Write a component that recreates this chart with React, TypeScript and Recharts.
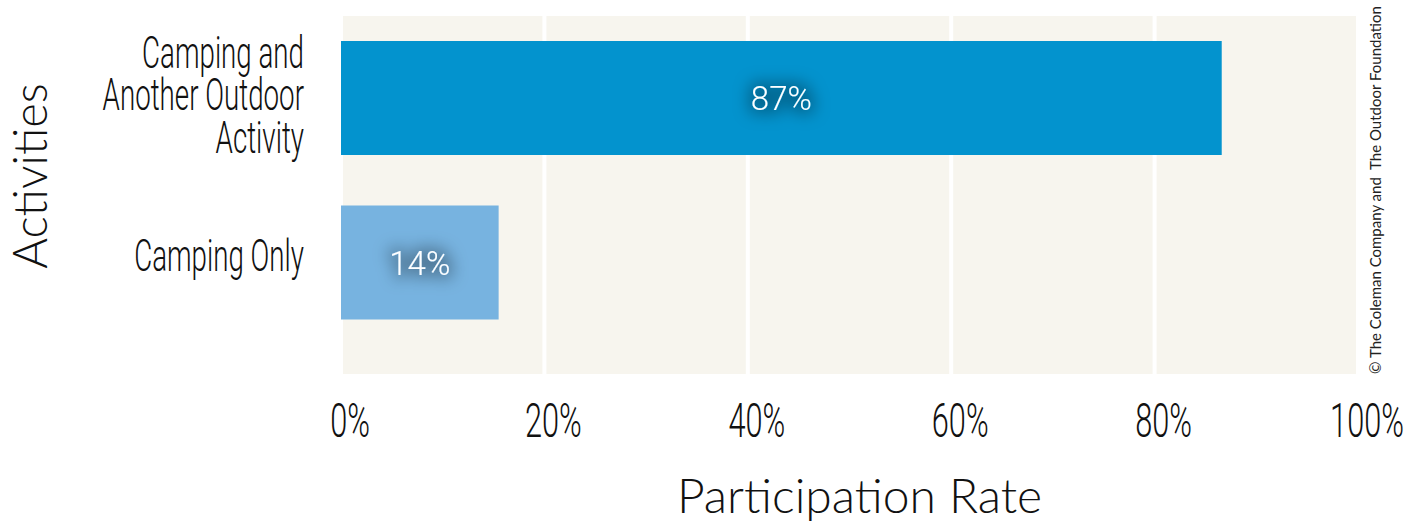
import React from 'react';
import {
  BarChart,
  Bar,
  Cell,
  XAxis,
  YAxis,
  CartesianGrid,
  LabelList,
  Label,
} from 'recharts';

const categories = ['Camping and\nAnother Outdoor\nActivity', 'Camping Only'];
const participation = [86.6, 15.5];
const valueLabels = ['87%', '14%'];
const barColors = ['#0393CE', '#77B3E0'];
const xTicks = [0, 20, 40, 60, 80, 100];

const data = categories.map((name, i) => ({
  name,
  rate: participation[i],
  label: valueLabels[i],
}));

// thin condensed look: Roboto light squeezed horizontally
const CONDENSED = "Roboto, 'Liberation Sans', sans-serif";
const ROUND = "Lato, 'Open Sans', sans-serif";
const LINE_GAP = 42.5;

const XTick = (props: any) => {
  const { x, y, payload } = props;
  return (
    <text
      transform={`translate(${x + 9},${y + 63}) scale(0.64,1)`}
      textAnchor="middle"
      fontFamily={CONDENSED}
      fontWeight={300}
      fontSize={48}
      fill="#111"
    >
      {payload.value}%
    </text>
  );
};

const YTick = (props: any) => {
  const { x, y, payload } = props;
  const lines = String(payload.value).split('\n');
  const n = lines.length;
  const firstBase = y + 8 - ((n - 1) / 2) * LINE_GAP + (n - 1) * 2;
  return (
    <text
      transform={`translate(${x - 37},${firstBase}) scale(0.63,1)`}
      textAnchor="end"
      fontFamily={CONDENSED}
      fontWeight={300}
      fontSize={44}
      fill="#111"
    >
      {lines.map((line, i) => (
        <tspan key={i} x={0} dy={i === 0 ? 0 : LINE_GAP}>
          {line}
        </tspan>
      ))}
    </text>
  );
};

const BarValue = (props: any) => {
  const { x, y, width, height, value, index } = props;
  const cx = x + width / 2;
  const cy = y + height / 2;
  const id = `glow-${index ?? String(value).replace('%', '')}`;
  return (
    <g>
      <defs>
        <filter id={id} x="-80%" y="-120%" width="260%" height="340%">
          <feMorphology in="SourceAlpha" operator="dilate" radius="4" result="fat" />
          <feGaussianBlur in="fat" stdDeviation="8" result="blur" />
          <feFlood floodColor="#000" floodOpacity="0.3" />
          <feComposite in2="blur" operator="in" result="shadow" />
          <feMerge>
            <feMergeNode in="shadow" />
            <feMergeNode in="SourceGraphic" />
          </feMerge>
        </filter>
      </defs>
      <text
        x={cx}
        y={cy + 12}
        textAnchor="middle"
        fontFamily="Roboto, sans-serif"
        fontWeight={300}
        fontSize={33}
        fill="#fff"
        filter={`url(#${id})`}
      >
        {value}
      </text>
    </g>
  );
};

const XTitle = (props: any) => {
  const { viewBox } = props;
  return (
    <text
      x={viewBox.x + viewBox.width / 2 + 10}
      y={viewBox.y + 139}
      textAnchor="middle"
      fontFamily={ROUND}
      fontWeight={300}
      fontSize={48}
      fill="#111"
    >
      Participation Rate
    </text>
  );
};

const YTitle = (props: any) => {
  const { viewBox } = props;
  const tx = viewBox.x + 6;
  const ty = viewBox.y + viewBox.height / 2 - 19;
  return (
    <text
      transform={`translate(${tx},${ty}) rotate(-90)`}
      textAnchor="middle"
      fontFamily={ROUND}
      fontWeight={300}
      fontSize={47}
      fill="#111"
    >
      Activities
    </text>
  );
};

export default function App() {
  return (
    <div style={{ position: 'fixed', left: 0, top: 0, width: 1420, height: 523, background: '#fff' }}>
      <BarChart
        width={1420}
        height={523}
        data={data}
        layout="vertical"
        margin={{ top: 16, right: 62, bottom: 89, left: 41 }}
      >
        <CartesianGrid
          horizontal={false}
          stroke="#fff"
          strokeWidth={4}
          fill="#F7F5EE"
          fillOpacity={1}
        />
        <XAxis
          type="number"
          domain={[0, 100]}
          ticks={xTicks}
          height={60}
          axisLine={false}
          tickLine={false}
          tickSize={0}
          tickMargin={0}
          tick={<XTick />}
          interval={0}
        >
          <Label content={<XTitle />} />
        </XAxis>
        <YAxis
          type="category"
          dataKey="name"
          width={300}
          padding={{ top: 0, bottom: 29 }}
          axisLine={false}
          tickLine={false}
          tickSize={0}
          tickMargin={0}
          tick={<YTick />}
          interval={0}
        >
          <Label content={<YTitle />} />
        </YAxis>
        <Bar dataKey="rate" barSize={114} isAnimationActive={false}>
          {data.map((d, i) => (
            <Cell key={d.name} fill={barColors[i]} />
          ))}
          <LabelList dataKey="label" content={<BarValue />} />
        </Bar>
      </BarChart>
      <div
        style={{
          position: 'absolute',
          left: 1375,
          top: 190,
          transform: 'translate(-50%, -50%) rotate(-90deg)',
          whiteSpace: 'pre',
          fontFamily: ROUND,
          fontSize: 15,
          color: '#222',
        }}
      >
        © The Coleman Company and  The Outdoor Foundation
      </div>
    </div>
  );
}
